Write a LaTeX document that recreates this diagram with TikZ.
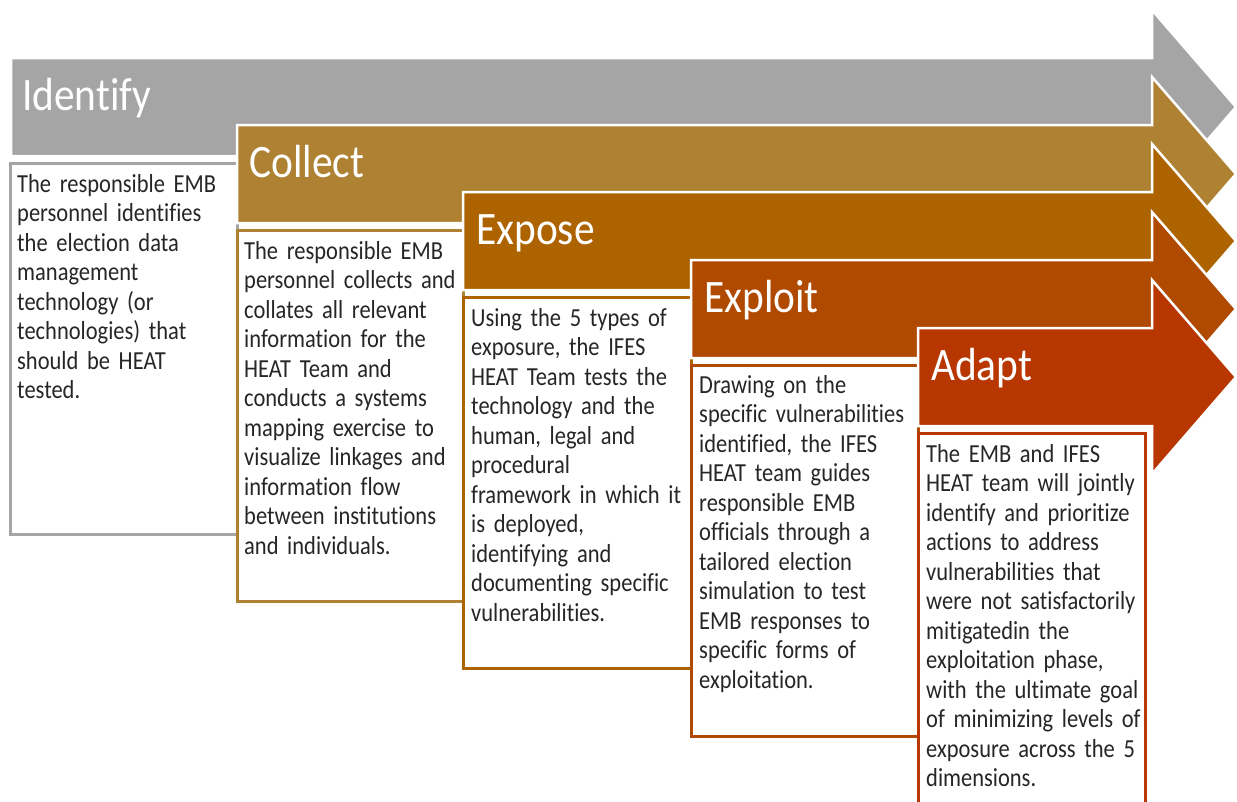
\documentclass[tikz,border=0pt]{standalone}
\usepackage{fontspec}
\setmainfont{Carlito}[FakeStretch=0.89,Ligatures=NoCommon]
\newfontfamily\stepfont{Carlito}[FakeStretch=0.865,Ligatures=NoCommon]
\usepackage{tikz}
\usetikzlibrary{positioning}

\definecolor{identcol}{RGB}{165,165,165}
\definecolor{collectcol}{RGB}{174,130,50}
\definecolor{exposecol}{RGB}{173,99,0}
\definecolor{exploitcol}{RGB}{176,74,0}
\definecolor{adaptcol}{RGB}{184,54,0}

\begin{document}
\begin{tikzpicture}[x=1pt,y=-1pt,
	steparrow/.style={fill=#1,draw=white,line width=2.5pt,line join=miter},
	stepbox/.style={draw=#1,line width=3pt,fill=white},
	steptitle/.style={anchor=base west,inner sep=0pt,text=white,font=\fontsize{46.5}{50}\selectfont},
	steptext/.style={anchor=base west,inner sep=0pt,text width=226pt,align=left,text=black!85,font=\stepfont\fontsize{26}{29.5}\selectfont}]
	% page size
	\fill[white] (0,0) rectangle (1237,801);
	\useasboundingbox (0,0) rectangle (1237,801);
	%% Identify
	\filldraw[steparrow=identcol] (11,58) -- (1152,58) -- (1152,10) -- (1236,107) -- (1152,204) -- (1152,156) -- (11,156) -- cycle;
	\node[steptitle] (identify) at (22,110) {Identify};
	\draw[stepbox=identcol] (10,163) rectangle (237,534);
	\node[steptext] (identify-text) at (17,192) {The responsible EMB\\ personnel identifies\\ the election data\\ management\\ technology (or\\ technologies) that\\ should be HEAT\\ tested.};
	%% Collect
	\filldraw[steparrow=collectcol] (237,125) -- (1152,125) -- (1152,77) -- (1236,174) -- (1152,271) -- (1152,223) -- (237,223) -- cycle;
	\node[steptitle] (collect) at (249,177) {Collect};
	\draw[stepbox=collectcol] (237,230) rectangle (463,601);
	\node[steptext] (collect-text) at (244,259) {The responsible EMB\\ personnel collects and\\ collates all relevant\\ information for the\\ HEAT Team and\\ conducts a systems\\ mapping exercise to\\ visualize linkages and\\ information flow\\ between institutions\\ and individuals.};
	%% Expose
	\filldraw[steparrow=exposecol] (463,192) -- (1152,192) -- (1152,144) -- (1236,241) -- (1152,338) -- (1152,290) -- (463,290) -- cycle;
	\node[steptitle] (expose) at (476,244) {Expose};
	\draw[stepbox=exposecol] (463,297) rectangle (691,668);
	\node[steptext] (expose-text) at (471,326) {Using the 5 types of\\ exposure, the IFES\\ HEAT Team tests the\\ technology and the\\ human, legal and\\ procedural\\ framework in which it\\ is deployed,\\ identifying and\\ documenting specific\\ vulnerabilities.};
	%% Exploit
	\filldraw[steparrow=exploitcol] (691,260) -- (1152,260) -- (1152,212) -- (1236,309) -- (1152,406) -- (1152,358) -- (691,358) -- cycle;
	\node[steptitle] (exploit) at (704,312) {Exploit};
	\draw[stepbox=exploitcol] (691,365) rectangle (918,736);
	\node[steptext] (exploit-text) at (699,393) {Drawing on the\\ specific vulnerabilities\\ identified, the IFES\\ HEAT team guides\\ responsible EMB\\ officials through a\\ tailored election\\ simulation to test\\ EMB responses to\\ specific forms of\\ exploitation.};
	%% Adapt
	\filldraw[steparrow=adaptcol] (918,328) -- (1152,328) -- (1152,280) -- (1236,377) -- (1152,474) -- (1152,426) -- (918,426) -- cycle;
	\node[steptitle] (adapt) at (931,380) {Adapt};
	\draw[stepbox=adaptcol] (918,433) rectangle (1145,806);
	\node[steptext] (adapt-text) at (926,462) {The EMB and IFES\\ HEAT team will jointly\\ identify and prioritize\\ actions to address\\ vulnerabilities that\\ were not satisfactorily\\ mitigatedin the\\ exploitation phase,\\ with the ultimate goal\\ of minimizing levels of\\ exposure across the 5\\ dimensions.};
\end{tikzpicture}
\end{document}
